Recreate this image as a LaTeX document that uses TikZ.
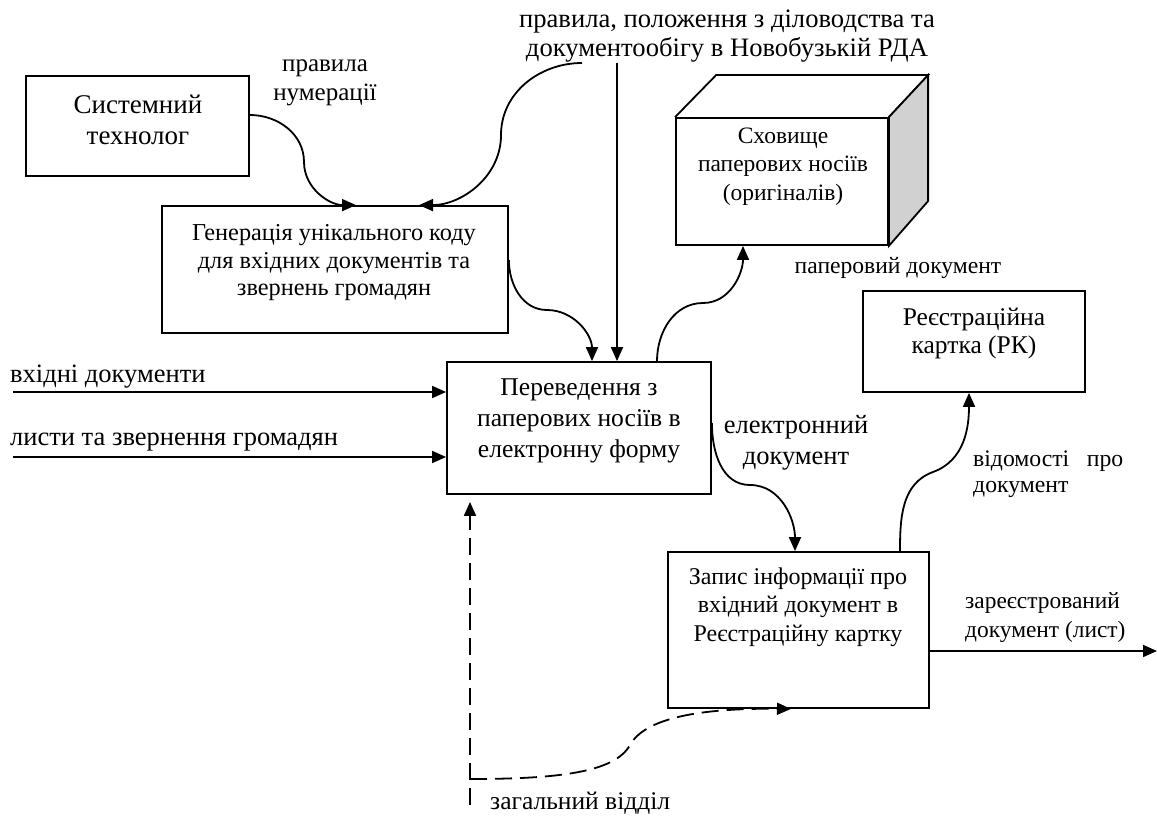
\documentclass[tikz,border=0pt]{standalone}
\usepackage{fontspec}
\setmainfont{Liberation Serif}
\usetikzlibrary{arrows.meta,calc}
\begin{document}
\begin{tikzpicture}[x=1pt,y=-1pt,
  box/.style={draw, line width=1.8pt, inner sep=0pt},
  txt/.style={inner sep=0pt, align=center},
  conn/.style={line width=1.8pt, -{Triangle[length=14pt,width=12pt]}},
  dconn/.style={conn, dash pattern=on 17pt off 8pt},
  fbig/.style={font=\fontsize{27}{31}\selectfont},
  fbox/.style={font=\fontsize{24.3}{27.5}\selectfont},
  flab/.style={font=\fontsize{23.6}{27}\selectfont},
  fin/.style={font=\fontsize{26.5}{30}\selectfont}
]
\useasboundingbox (0,0) rectangle (1157,818);
% boxes
\node[box, minimum width=223pt, minimum height=100pt] (sys) at (137.5,126) {};
\node[txt, fbig] (syst) at (138,120) {Системний\\технолог};
\node[box, minimum width=346pt, minimum height=127pt] (gen) at (335,269.5) {};
\node[txt, fbox] (gent) at (334,263) {Генерація унікального коду\\для вхідних документів та\\звернень громадян};
\node[box, minimum width=264pt, minimum height=132pt] (per) at (579,428) {};
\node[txt, font=\fontsize{25.6}{31}\selectfont] (pert) at (579,421) {Переведення з\\паперових носіїв в\\електронну форму};
\node[box, minimum width=261pt, minimum height=156pt] (zap) at (798.5,630) {};
\node[txt, font=\fontsize{24}{28.5}\selectfont] (zapt) at (798,607) {Запис інформації про\\вхідний документ в\\Реєстраційну картку};
\node[box, minimum width=222pt, minimum height=101pt] (rk) at (974,341.5) {};
\node[txt, font=\fontsize{25.5}{28}\selectfont] (rkt) at (974,333.5) {Реєстраційна\\картка (РК)};
% 3D storage
\node[box, minimum width=212pt, minimum height=127pt] (stor) at (782,181.5) {};
\draw[line width=1.8pt, line join=miter] (stor.north west) -- ++(41,-42) coordinate (tl) -- ++(212,0) coordinate (tr) -- (stor.north east);
\draw[line width=1.8pt, fill=black!18] (stor.north east) -- (tr) -- ++(0,126) -- (stor.south east) -- cycle;
\node[txt, font=\fontsize{23.5}{28.5}\selectfont] (stort) at (783,166.5) {Сховище\\паперових носіїв\\(оригіналів)};
% labels
\node[txt, font=\fontsize{26.6}{29}\selectfont] (rules) at (727,36) {правила, положення з діловодства та\\документообігу в Новобузькій РДА};
\node[txt, font=\fontsize{25}{29}\selectfont] (num) at (325,82.5) {правила\\нумерації};
\node[txt, flab] (pap) at (898,268) {паперовий документ};
\node[txt, fin, anchor=west] (vh) at (10,377) {вхідні документи};
\node[txt, fin, anchor=west] (lys) at (10,442) {листи та звернення громадян};
\node[txt, font=\fontsize{26.5}{31}\selectfont] (el) at (796,442.5) {електронний\\документ};
\node[txt, font=\fontsize{23.7}{26}\selectfont, align=left, anchor=north west] (vid) at (973,451) {\makebox[150pt][s]{відомості про}\\документ};
\node[txt, font=\fontsize{23.4}{29}\selectfont, align=left, anchor=west] (zar) at (965,618) {зареєстрований\\документ (лист)};
\node[txt, font=\fontsize{25.5}{30}\selectfont, anchor=west] (zag) at (490,803) {загальний відділ};
% free ends
\coordinate (r1) at (582,63);
\coordinate (r2) at (617,63);
\coordinate (in1) at (13,392);
\coordinate (in2) at (13,457);
\coordinate (out) at (1157,651);
\coordinate (db) at (470,805);
\coordinate (dj) at (470,779);
% connectors
\draw[conn] ([yshift=11pt]sys.east) to[out=0,in=90] (304,162) to[out=-90,in=180] ([xshift=21pt]gen.north);
\draw[conn] (r1) to[out=180,in=90] (501,135) to[out=-90,in=0] ([xshift=84pt]gen.north);
\draw[conn] (r2) -- (r2 |- per.north);
\draw[conn] ([yshift=9.5pt]gen.east) to[out=-90,in=180] (547,310) to[out=0,in=90] ([xshift=13pt]per.north);
\draw[conn] (in1) -- (in1 -| per.west);
\draw[conn] (in2) -- (in2 -| per.west);
\draw[conn] ([xshift=78pt]per.north) to[out=90,in=180] (703,303) to[out=0,in=-90] ([xshift=-39pt]stor.south);
\draw[conn] ([yshift=5pt]per.east) to[out=-90,in=180] (750,485) to[out=0,in=90] ([xshift=-3.5pt]zap.north);
\draw[conn] ([xshift=101.5pt]zap.north) to[out=90,in=200] (933,472) to[out=20,in=-90] ([xshift=-5pt]rk.south);
\draw[conn] (out -| zap.east) -- (out);
\draw[dconn] (db) -- ([xshift=-109pt,yshift=-7pt]per.south);
\draw[dconn] (dj) .. controls (560,779) and (615,772) .. (630,745) .. controls (645,718) and (700,708) .. ([xshift=-7.5pt]zap.south);
\end{tikzpicture}
\end{document}
